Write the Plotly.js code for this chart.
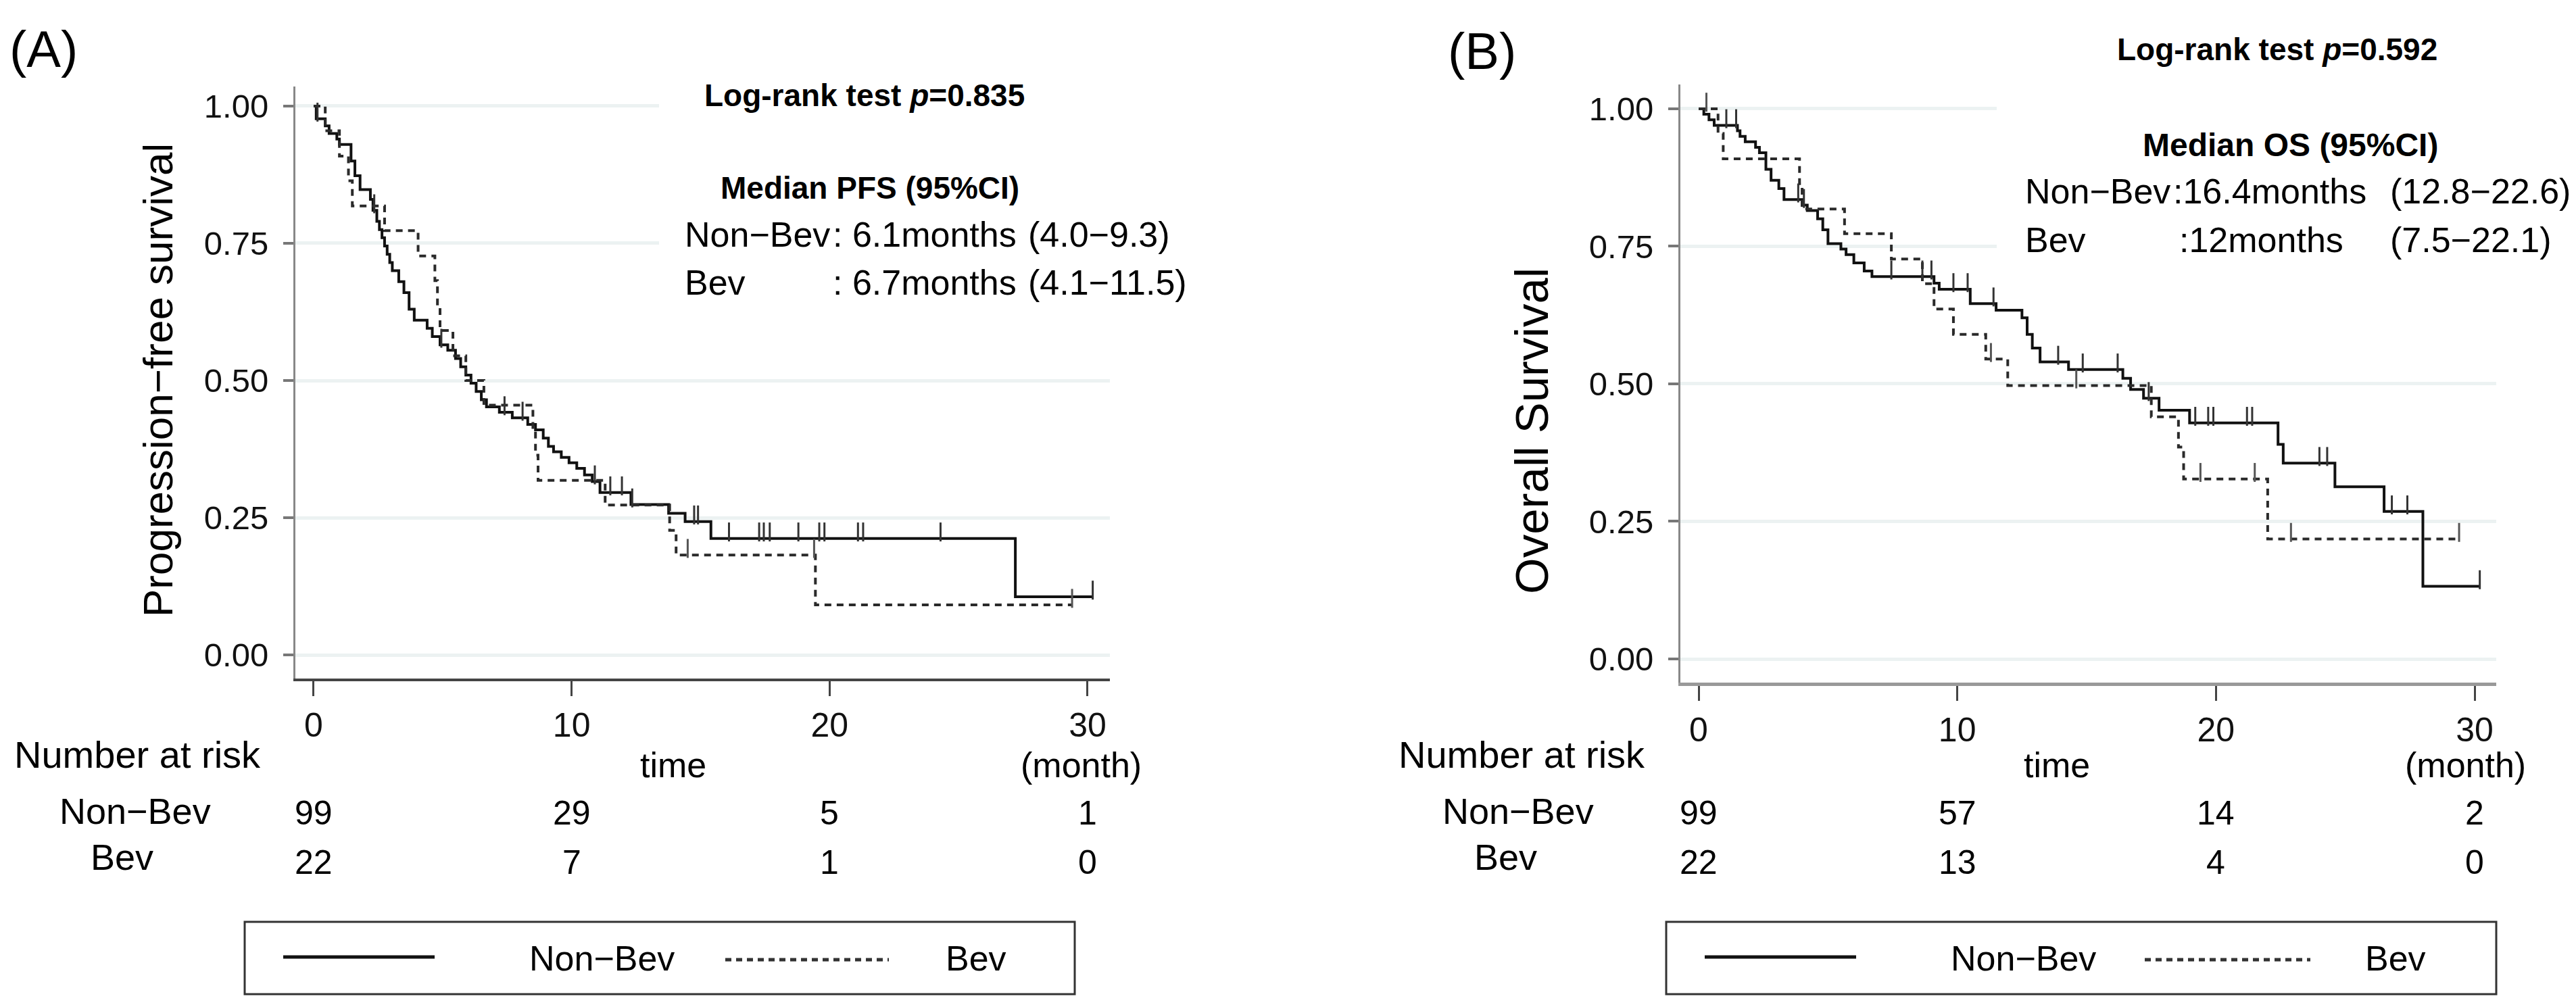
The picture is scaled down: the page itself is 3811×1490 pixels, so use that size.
<!DOCTYPE html>
<html><head><meta charset="utf-8">
<script src="https://cdn.plot.ly/plotly-3.0.1.min.js"></script>
<style>html,body{margin:0;padding:0;background:#fff}</style>
</head><body><div id="chart" style="width:3811px;height:1490px"></div>
<script>
const W=3811,H=1490;
// ---------- Panel A: progression-free survival ----------
const pfsNonBevT=[0,0.1,0.45,0.6,0.9,1.0,1.45,1.6,1.8,2.2,2.3,2.45,2.55,2.65,2.75,2.85,2.95,3.05,3.3,3.5,3.7,3.9,4.4,4.6,4.9,5.2,5.5,5.7,5.9,6.1,6.3,6.5,6.7,7.2,7.7,8.3,8.6,8.9,9.1,9.3,9.6,9.9,10.2,10.5,10.8,11.1,12.3,13.76,14.4,15.4,27.2];
const pfsNonBevS=[1,0.977,0.964,0.95,0.94,0.93,0.90,0.873,0.848,0.83,0.81,0.79,0.775,0.76,0.745,0.73,0.715,0.70,0.68,0.66,0.63,0.61,0.595,0.58,0.565,0.555,0.54,0.525,0.51,0.495,0.48,0.465,0.452,0.442,0.432,0.42,0.41,0.395,0.38,0.37,0.36,0.35,0.34,0.328,0.316,0.296,0.274,0.258,0.243,0.212,0.106];
const pfsNonBevEnd=30.2;
const pfsNonBevCens=[0.15,2.35,4.95,7.4,8.1,10.9,11.5,11.95,12.35,14.75,14.9,16.1,17.27,17.45,17.68,18.79,19.6,19.8,21.1,21.3,24.3,30.2];
const pfsBevT=[0,0.45,1.0,1.35,1.5,2.75,4.05,4.7,4.8,4.9,5.4,5.9,6.6,8.5,8.6,8.7,11.3,13.8,14.05,19.45];
const pfsBevS=[1,0.955,0.909,0.864,0.818,0.773,0.727,0.682,0.636,0.591,0.545,0.50,0.455,0.409,0.364,0.318,0.273,0.227,0.182,0.091];
const pfsBevEnd=29.4;
const pfsBevCens=[14.5,19.4,29.4];
// ---------- Panel B: overall survival ----------
const osNonBevT=[0,0.2,0.4,0.6,1.5,1.6,1.8,2.2,2.35,2.6,2.8,3.1,3.3,4.0,4.2,4.6,4.8,5.0,5.5,5.7,6.0,6.4,6.7,9.1,9.3,10.5,11.5,12.5,12.7,12.9,13.2,14.3,16.4,16.7,17.2,17.8,18.98,22.4,22.6,24.6,26.5,28.0];
const osNonBevS=[1,0.99,0.98,0.97,0.96,0.95,0.94,0.93,0.92,0.89,0.87,0.855,0.835,0.825,0.815,0.80,0.78,0.755,0.745,0.735,0.72,0.705,0.695,0.683,0.672,0.646,0.634,0.62,0.59,0.565,0.54,0.526,0.51,0.49,0.474,0.452,0.429,0.39,0.356,0.313,0.268,0.132];
const osNonBevEnd=30.2;
const osNonBevCens=[1.07,1.45,3.85,4.07,7.45,8.65,9.0,9.85,10.4,11.4,13.9,14.85,16.2,17.4,19.2,19.7,19.9,21.2,21.4,24.0,24.3,26.8,27.4,30.2];
const osBevT=[0,0.75,0.95,3.9,4.0,5.64,7.45,8.65,9.1,9.85,11.1,11.95,17.5,18.55,18.75,22.0];
const osBevS=[1,0.955,0.909,0.864,0.818,0.773,0.727,0.682,0.636,0.59,0.545,0.497,0.44,0.385,0.327,0.218];
const osBevEnd=29.4;
const osBevCens=[0.3,11.3,14.6,19.4,21.5,22.9,29.4];
// ---------- number at risk ----------
const riskTimes=[0,10,20,30];
const riskPfsNonBev=[99,29,5,1];
const riskPfsBev=[22,7,1,0];
const riskOsNonBev=[99,57,14,2];
const riskOsBev=[22,13,4,0];
const yTickVals=[0,0.25,0.5,0.75,1];
const yTickText=['0.00','0.25','0.50','0.75','1.00'];
const xTickVals=[0,10,20,30];

const FONT='Liberation Sans, Arial, sans-serif';
const px=x=>x/W, py=y=>1-y/H;
function survAt(T,S,t){let v=S[0];for(let i=0;i<T.length;i++){if(T[i]<=t)v=S[i];}return v;}
function curve(T,S,end,xa,ya,dash){
  return {type:'scatter',mode:'lines',x:T.concat([end]),y:S.concat([S[S.length-1]]),
    line:{shape:'hv',color:dash?'#2a2a2a':'#111',width:4,dash:dash?'10px,8px':'solid'},
    xaxis:xa,yaxis:ya,showlegend:false,hoverinfo:'skip'};
}
function cens(C,T,S,xa,ya,col){
  return {type:'scatter',mode:'markers',x:C,y:C.map(t=>survAt(T,S,t)+0.012),
    marker:{symbol:'line-ns-open',size:20,color:col,line:{width:3,color:col}},
    xaxis:xa,yaxis:ya,showlegend:false,hoverinfo:'skip'};
}
const traces=[
  curve(pfsNonBevT,pfsNonBevS,pfsNonBevEnd,'x','y',false),
  curve(pfsBevT,pfsBevS,pfsBevEnd,'x','y',true),
  cens(pfsNonBevCens,pfsNonBevT,pfsNonBevS,'x','y','#333'),
  cens(pfsBevCens,pfsBevT,pfsBevS,'x','y','#555'),
  curve(osNonBevT,osNonBevS,osNonBevEnd,'x2','y2',false),
  curve(osBevT,osBevS,osBevEnd,'x2','y2',true),
  cens(osNonBevCens,osNonBevT,osNonBevS,'x2','y2','#333'),
  cens(osBevCens,osBevT,osBevS,'x2','y2','#555')
];
function xax(domain,range){return {domain:domain,range:range,tickvals:xTickVals,ticks:'outside',ticklen:22,tickwidth:3,tickcolor:'#444',
  showline:true,linecolor:'#444',linewidth:4,showgrid:false,zeroline:false,tickfont:{family:FONT,size:50,color:'#111'},ticklabelstandoff:0,fixedrange:true};}
function yax(domain,range,anchor){return {domain:domain,range:range,anchor:anchor,tickvals:yTickVals,ticktext:yTickText,ticks:'outside',ticklen:15,tickwidth:4,tickcolor:'#777',
  showline:true,linecolor:'#888',linewidth:3,showgrid:true,gridcolor:'#ecf2f2',gridwidth:5,zeroline:false,tickfont:{family:FONT,size:49,color:'#111'},ticklabelstandoff:12,fixedrange:true};}

const ann=[];
function T(text,x,y,o){ann.push(Object.assign({text:text,xref:'paper',yref:'paper',x:px(x),y:py(y),xanchor:'left',yanchor:'middle',showarrow:false,
  font:{family:FONT,size:52,color:'#000'}},o||{}));}
// Panel labels
T('(A)',12,72,{font:{family:FONT,size:76,color:'#000'}});
T('(B)',2140,76,{font:{family:FONT,size:76,color:'#000'}});
// Y titles
T('Progression−free survival',233,563,{xanchor:'center',textangle:-90,font:{family:FONT,size:62,color:'#000'}});
T('Overall Survival',2266,638,{xanchor:'center',textangle:-90,font:{family:FONT,size:69,color:'#000'}});
// Panel A text box
T('<b>Log-rank test <i>p</i>=0.835</b>',1040,141,{font:{family:FONT,size:46,color:'#000'}});
T('<b>Median PFS (95%CI)</b>',1064,278,{font:{family:FONT,size:46,color:'#000'}});
T('Non−Bev',1011,347); T(': 6.1months',1230,347); T('(4.0−9.3)',1519,347);
T('Bev',1011,418); T(': 6.7months',1230,418); T('(4.1−11.5)',1519,418);
// Panel B text box
T('<b>Log-rank test <i>p</i>=0.592</b>',3130,73,{font:{family:FONT,size:46,color:'#000'}});
T('<b>Median OS (95%CI)</b>',3168,215,{font:{family:FONT,size:48,color:'#000'}});
T('Non−Bev',2994,283); T(':16.4months',3213,283); T('(12.8−22.6)',3534,283);
T('Bev',2994,355); T(':12months',3222,355); T('(7.5−22.1)',3534,355);
// risk tables
T('Number at risk',19,1116,{font:{family:FONT,size:56,color:'#000'}});
T('time',996,1132,{xanchor:'center'}); T('(month)',1599,1132,{xanchor:'center'});
T('Non−Bev',200,1200,{xanchor:'center',font:{family:FONT,size:54,color:'#000'}});
T('Bev',180,1268,{xanchor:'center',font:{family:FONT,size:54,color:'#000'}});
T('Number at risk',2067,1116,{font:{family:FONT,size:56,color:'#000'}});
T('time',3043,1132,{xanchor:'center'}); T('(month)',3647,1132,{xanchor:'center'});
T('Non−Bev',2246,1200,{xanchor:'center',font:{family:FONT,size:54,color:'#000'}});
T('Bev',2227,1268,{xanchor:'center',font:{family:FONT,size:54,color:'#000'}});
riskTimes.forEach((t,i)=>{
  ann.push({text:String(riskPfsNonBev[i]),xref:'x',yref:'paper',x:t,y:py(1203),xanchor:'center',yanchor:'middle',showarrow:false,font:{family:FONT,size:50,color:'#000'}});
  ann.push({text:String(riskPfsBev[i]),xref:'x',yref:'paper',x:t,y:py(1276),xanchor:'center',yanchor:'middle',showarrow:false,font:{family:FONT,size:50,color:'#000'}});
  ann.push({text:String(riskOsNonBev[i]),xref:'x2',yref:'paper',x:t,y:py(1203),xanchor:'center',yanchor:'middle',showarrow:false,font:{family:FONT,size:50,color:'#000'}});
  ann.push({text:String(riskOsBev[i]),xref:'x2',yref:'paper',x:t,y:py(1276),xanchor:'center',yanchor:'middle',showarrow:false,font:{family:FONT,size:50,color:'#000'}});
});
// legend labels
T('Non−Bev',890,1418,{xanchor:'center'}); T('Bev',1444,1418,{xanchor:'center'});
T('Non−Bev',2993,1418,{xanchor:'center'}); T('Bev',3544,1418,{xanchor:'center'});

const shapes=[
  {type:'rect',xref:'paper',yref:'paper',x0:px(975),x1:px(1645),y0:py(128),y1:py(450),fillcolor:'#fff',line:{width:0},layer:'above'},
  {type:'rect',xref:'paper',yref:'paper',x0:px(2954),x1:px(3696),y0:py(120),y1:py(400),fillcolor:'#fff',line:{width:0},layer:'above'},
  {type:'rect',xref:'paper',yref:'paper',x0:px(362),x1:px(1590),y0:py(1364),y1:py(1471),line:{color:'#333',width:3},fillcolor:'rgba(0,0,0,0)'},
  {type:'rect',xref:'paper',yref:'paper',x0:px(2465),x1:px(3693),y0:py(1364),y1:py(1471),line:{color:'#333',width:3},fillcolor:'rgba(0,0,0,0)'},
  {type:'line',xref:'paper',yref:'paper',x0:px(419),x1:px(643),y0:py(1416),y1:py(1416),line:{color:'#111',width:5}},
  {type:'line',xref:'paper',yref:'paper',x0:px(1073),x1:px(1315),y0:py(1420),y1:py(1420),line:{color:'#333',width:5,dash:'9px,7px'}},
  {type:'line',xref:'paper',yref:'paper',x0:px(2522),x1:px(2746),y0:py(1416),y1:py(1416),line:{color:'#111',width:5}},
  {type:'line',xref:'paper',yref:'paper',x0:px(3173),x1:px(3418),y0:py(1420),y1:py(1420),line:{color:'#333',width:5,dash:'9px,7px'}}
];

const layout={width:W,height:H,margin:{l:0,r:0,t:0,b:0},paper_bgcolor:'#fff',plot_bgcolor:'#fff',showlegend:false,
  xaxis:Object.assign(xax([437/W,1642/W],[-0.707,30.865]),{anchor:'y'}),
  yaxis:yax([1-1004/H,1-128/H],[-0.0431,1.0357],'x'),
  xaxis2:Object.assign(xax([2486/W,3693/W],[-0.706,30.836]),{anchor:'y2',linecolor:'#999',linewidth:5}),
  yaxis2:yax([1-1010/H,1-125/H],[-0.043,1.0442],'x2'),
  annotations:ann,shapes:shapes};
Plotly.newPlot('chart',traces,layout,{displayModeBar:false,staticPlot:true});
</script></body></html>
